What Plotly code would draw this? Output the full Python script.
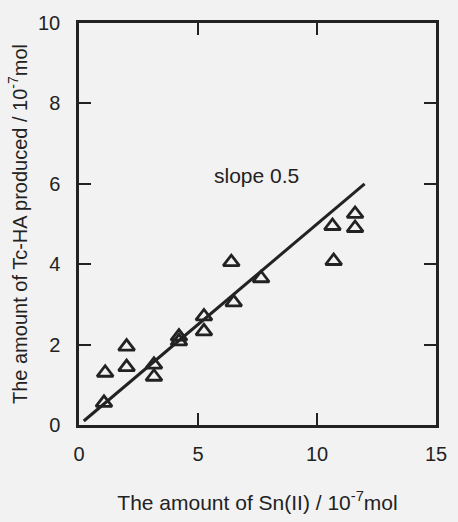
import plotly.graph_objects as go

# Data
sn_amount = [1.05, 1.1, 2.0, 2.0, 3.15, 3.15, 4.2, 4.2, 5.25, 5.25, 6.5, 6.4, 7.65, 10.7, 10.65, 11.6, 11.6]
tc_amount = [0.55, 1.3, 1.95, 1.44, 1.5, 1.2, 2.2, 2.08, 2.7, 2.33, 3.05, 4.05, 3.65, 4.08, 4.95, 4.9, 5.25]

fit_x = [0.2, 12.0]
slope = 0.5
fit_y = [slope * v for v in fit_x]

x_ticks = [0, 5, 10, 15]
y_ticks = [0, 2, 4, 6, 8, 10]

ink = "#222222"
font_family = "Liberation Sans, Arial, Helvetica, sans-serif"

fig = go.Figure()
fig.add_trace(go.Scatter(
    x=fit_x, y=fit_y, mode="lines",
    line=dict(color=ink, width=3),
    showlegend=False, hoverinfo="skip",
))
fig.add_trace(go.Scatter(
    x=sn_amount, y=tc_amount, mode="markers",
    marker=dict(symbol="triangle-up-open", size=14, color=ink,
                line=dict(color=ink, width=2.8)),
    showlegend=False,
))

fig.add_annotation(
    x=7.45, y=6.2, text="slope 0.5", showarrow=False,
    font=dict(family=font_family, size=21, color=ink),
)

axis_common = dict(
    showgrid=False, zeroline=False, showline=True, mirror="ticks",
    linecolor=ink, linewidth=2.5, ticks="inside", ticklen=12,
    tickwidth=2.2, tickcolor=ink,
    tickfont=dict(family=font_family, size=20, color=ink),
)

fig.update_xaxes(
    range=[0, 15], tickvals=x_ticks, ticktext=[str(v) for v in x_ticks],
    ticklabelstandoff=9,
    title=dict(text="The amount of Sn(II) / 10<sup>-7</sup>mol",
               font=dict(family=font_family, size=21, color=ink), standoff=32),
    **axis_common,
)
fig.update_yaxes(
    range=[0, 10], tickvals=y_ticks, ticktext=[str(v) for v in y_ticks],
    ticklabelstandoff=12,
    title=dict(text="The amount of Tc-HA produced / 10<sup>-7</sup>mol",
               font=dict(family=font_family, size=20, color=ink), standoff=6),
    **axis_common,
)

fig.update_layout(
    width=458, height=522,
    margin=dict(l=79, r=11, t=23, b=93),
    paper_bgcolor="#f2f2f2", plot_bgcolor="#f2f2f2",
)

fig.write_html(
    "out.html",
    config={"displayModeBar": False},
    post_script="document.body.style.margin='0';document.body.style.background='#f2f2f2';",
)
